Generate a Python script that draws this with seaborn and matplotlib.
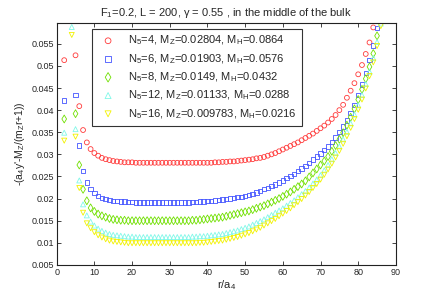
import matplotlib
matplotlib.use("Agg")
import matplotlib.pyplot as plt
import seaborn as sns

# r/a4 positions and curve values
r_n4 = [2, 5] + list(range(6, 85))
y_n4 = [0.0513, 0.0524,
        0.0409, 0.0355, 0.0327, 0.0312, 0.0303, 0.0297, 0.0292, 0.0289, 0.0287, 0.0285,
        0.0284, 0.0283, 0.0282, 0.0282, 0.0282, 0.0281, 0.0281, 0.0281, 0.0281, 0.0281,
        0.0281, 0.0281, 0.0281, 0.0281, 0.0281, 0.0281, 0.0281, 0.0281, 0.0281, 0.0281,
        0.0281, 0.0281, 0.0281, 0.0281, 0.0281, 0.0281, 0.0282, 0.0282, 0.0283, 0.0283,
        0.0284, 0.0284, 0.0285, 0.0286, 0.0287, 0.0288, 0.0289, 0.0291, 0.0292, 0.0294,
        0.0297, 0.0300, 0.0303, 0.0307, 0.0311, 0.0315, 0.0319, 0.0323, 0.0327, 0.0332,
        0.0337, 0.0342, 0.0347, 0.0353, 0.0359, 0.0365, 0.0372, 0.0380, 0.0389, 0.0400,
        0.0412, 0.0428, 0.0444, 0.0461, 0.0481, 0.0502, 0.0527, 0.0553, 0.0587]

r_n6 = [2, 5] + list(range(6, 86))
y_n6 = [0.0422, 0.0434,
        0.0320, 0.0263, 0.0236, 0.0221, 0.0212, 0.0206, 0.0202, 0.0199, 0.0197, 0.0195,
        0.0194, 0.0193, 0.0193, 0.0192, 0.0192, 0.0191, 0.0191, 0.0191, 0.0191, 0.0191,
        0.0191, 0.0191, 0.0191, 0.0191, 0.0191, 0.0191, 0.0191, 0.0191, 0.0191, 0.0191,
        0.0192, 0.0192, 0.0193, 0.0193, 0.0194, 0.0195, 0.0196, 0.0197, 0.0198, 0.0199,
        0.0200, 0.0201, 0.0203, 0.0204, 0.0206, 0.0208, 0.0211, 0.0214, 0.0217, 0.0221,
        0.0224, 0.0228, 0.0232, 0.0236, 0.0241, 0.0246, 0.0251, 0.0256, 0.0262, 0.0268,
        0.0274, 0.0281, 0.0288, 0.0295, 0.0302, 0.0310, 0.0318, 0.0328, 0.0338, 0.0350,
        0.0363, 0.0377, 0.0394, 0.0412, 0.0434, 0.0458, 0.0484, 0.0514, 0.0546, 0.0586]

r_n8 = [2, 5] + list(range(6, 86))
y_n8 = [0.0380, 0.0392,
        0.0276, 0.0221, 0.0195, 0.0179, 0.0171, 0.0165, 0.0161, 0.0158, 0.0155, 0.0153,
        0.0152, 0.0151, 0.0151, 0.0150, 0.0150, 0.0150, 0.0150, 0.0150, 0.0150, 0.0150,
        0.0150, 0.0150, 0.0150, 0.0150, 0.0150, 0.0150, 0.0150, 0.0150, 0.0150, 0.0150,
        0.0151, 0.0151, 0.0152, 0.0153, 0.0154, 0.0155, 0.0156, 0.0157, 0.0158, 0.0160,
        0.0162, 0.0164, 0.0166, 0.0168, 0.0170, 0.0172, 0.0175, 0.0178, 0.0181, 0.0184,
        0.0188, 0.0192, 0.0196, 0.0200, 0.0205, 0.0210, 0.0215, 0.0221, 0.0227, 0.0233,
        0.0240, 0.0249, 0.0258, 0.0267, 0.0276, 0.0285, 0.0295, 0.0307, 0.0320, 0.0334,
        0.0349, 0.0366, 0.0384, 0.0403, 0.0424, 0.0447, 0.0471, 0.0498, 0.0528, 0.0568]

r_n12 = [2, 4, 5] + list(range(6, 87))
y_n12 = [0.0349, 0.0588, 0.0357,
         0.0241, 0.0187, 0.0162, 0.0148, 0.0139, 0.0132, 0.0127, 0.0123, 0.0120, 0.0118,
         0.0117, 0.0116, 0.0115, 0.0114, 0.0114, 0.0113, 0.0113, 0.0113, 0.0113, 0.0113,
         0.0113, 0.0113, 0.0113, 0.0113, 0.0113, 0.0113, 0.0113, 0.0113, 0.0113, 0.0113,
         0.0114, 0.0114, 0.0115, 0.0115, 0.0116, 0.0117, 0.0118, 0.0119, 0.0120, 0.0122,
         0.0124, 0.0126, 0.0128, 0.0131, 0.0134, 0.0137, 0.0141, 0.0145, 0.0149, 0.0153,
         0.0158, 0.0163, 0.0168, 0.0173, 0.0178, 0.0184, 0.0190, 0.0196, 0.0203, 0.0210,
         0.0217, 0.0225, 0.0234, 0.0243, 0.0253, 0.0264, 0.0276, 0.0289, 0.0303, 0.0318,
         0.0334, 0.0351, 0.0370, 0.0390, 0.0411, 0.0434, 0.0459, 0.0487, 0.0518, 0.0554, 0.0596]

r_n16 = [2, 4, 5] + list(range(6, 87))
y_n16 = [0.0331, 0.0570, 0.0340,
         0.0224, 0.0168, 0.0144, 0.0133, 0.0124, 0.0117, 0.0112, 0.0108, 0.0105, 0.0103,
         0.0102, 0.0101, 0.0100, 0.0099, 0.0099, 0.0099, 0.0099, 0.0099, 0.0099, 0.0099,
         0.0099, 0.0099, 0.0099, 0.0099, 0.0099, 0.0099, 0.0099, 0.0099, 0.0099, 0.0099,
         0.0099, 0.0099, 0.0100, 0.0100, 0.0101, 0.0102, 0.0103, 0.0104, 0.0105, 0.0107,
         0.0109, 0.0111, 0.0113, 0.0116, 0.0119, 0.0122, 0.0126, 0.0130, 0.0134, 0.0139,
         0.0144, 0.0149, 0.0154, 0.0160, 0.0166, 0.0172, 0.0178, 0.0185, 0.0192, 0.0199,
         0.0207, 0.0215, 0.0224, 0.0233, 0.0243, 0.0254, 0.0266, 0.0279, 0.0293, 0.0308,
         0.0324, 0.0341, 0.0360, 0.0380, 0.0401, 0.0424, 0.0449, 0.0477, 0.0508, 0.0545, 0.0590]

labels = ["N$_5$=4, M$_Z$=0.02804, M$_H$=0.0864",
          "N$_5$=6, M$_Z$=0.01903, M$_H$=0.0576",
          "N$_5$=8, M$_Z$=0.0149, M$_H$=0.0432",
          "N$_5$=12, M$_Z$=0.01133, M$_H$=0.0288",
          "N$_5$=16, M$_Z$=0.009783, M$_H$=0.0216"]

sns.set_style("ticks")
plt.rcParams["font.family"] = ["Liberation Sans", "DejaVu Sans"]
plt.rcParams["mathtext.default"] = "regular"

fig = plt.figure(figsize=(4.36, 2.97), dpi=100)
ax = fig.add_axes([0.130, 0.108, 0.778, 0.816])

series = [(r_n4, y_n4, "o", "#ff3a3a", 12),
          (r_n6, y_n6, "s", "#4455ff", 10),
          (r_n8, y_n8, "d", "#70e000", 16),
          (r_n12, y_n12, "^", "#80f8e8", 13),
          (r_n16, y_n16, "v", "#f2f200", 13)]

for (rx, ry, mk, col, sz), lab in zip(series, labels):
    sns.scatterplot(x=rx, y=ry, ax=ax, marker=mk, s=sz, facecolor="none",
                    edgecolor=col, linewidth=0.6, label=lab)

ax.set_xlim(0, 90)
ax.set_ylim(0.005, 0.0598)
ax.set_xticks(range(0, 91, 10))
yt = [0.005, 0.01, 0.015, 0.02, 0.025, 0.03, 0.035, 0.04, 0.045, 0.05, 0.055]
ax.set_yticks(yt)
ax.set_yticklabels([f"{v:g}" for v in yt])
ax.tick_params(direction="in", length=3, width=0.6, labelsize=6.5,
               top=True, right=True, pad=2)
for sp in ax.spines.values():
    sp.set_visible(True)
    sp.set_linewidth(0.8)
    sp.set_color("#222222")

ax.set_xlabel("r/a$_4$", fontsize=8, labelpad=1)
ax.set_ylabel("-(a$_4$y'-M$_Z$/(m$_Z$r+1))", fontsize=7.5, labelpad=3)
ax.set_title("F$_1$=0.2, L = 200, $\\gamma$ = 0.55 , in the middle of the bulk",
             fontsize=8, pad=5)

leg = ax.legend(loc="upper left", bbox_to_anchor=(0.104, 0.974), borderaxespad=0,
                fontsize=8, frameon=True, fancybox=False, labelspacing=0.42,
                handletextpad=0.8, borderpad=0.45, markerscale=1.2)
leg.get_frame().set_edgecolor("black")
leg.get_frame().set_linewidth(0.8)

fig.savefig("out.png", dpi=100)
